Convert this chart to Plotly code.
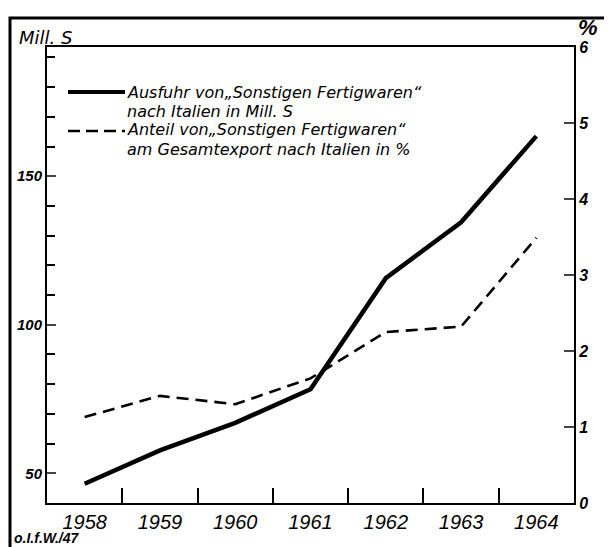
import plotly.graph_objects as go

years = [1958, 1959, 1960, 1961, 1962, 1963, 1964]
exports_mill_s = [46.5, 57.7, 67.0, 78.3, 115.7, 134.5, 163.5]
share_pct = [1.13, 1.41, 1.30, 1.64, 2.25, 2.32, 3.49]

left_ticks = [50, 100, 150]
right_ticks = [0, 1, 2, 3, 4, 5, 6]
half_year_ticks = [1958.5, 1959.5, 1960.5, 1961.5, 1962.5, 1963.5]

legend_lines = [
    "Ausfuhr von\u201eSonstigen Fertigwaren\u201c",
    "nach Italien in Mill. S",
    "Anteil von\u201eSonstigen Fertigwaren\u201c",
    "am Gesamtexport nach Italien in %",
]

# page has an 8px body margin; compensate so the plot lands where the reference has it
OFF = 8
W, H = 612 - OFF, 547 - OFF
PL, PR, PT, PB = 47, 574, 47, 503          # plot area in page pixels
L, T = PL - OFF, PT - OFF
R = W - (PR - OFF)
B = H - (PB - OFF)
PW, PH = PR - PL, PB - PT

def px(x):
    return (x - PL) / PW

def py(y):
    return (PB - y) / PH

FONT = "Liberation Sans"
LFONT = "DejaVu Sans"

fig = go.Figure()
fig.add_trace(go.Scatter(x=years, y=exports_mill_s, mode="lines",
                         line=dict(color="black", width=4.5), yaxis="y", showlegend=False))
fig.add_trace(go.Scatter(x=years, y=share_pct, mode="lines",
                         line=dict(color="black", width=2.6, dash="12px,7px"), yaxis="y2", showlegend=False))

fig.update_layout(
    width=W, height=H,
    margin=dict(l=L, r=R, t=T, b=B, autoexpand=False),
    paper_bgcolor="white", plot_bgcolor="white",
    font=dict(family=FONT, color="black"),
    xaxis=dict(range=[1957.5, 1964.5], tickvals=years, ticktext=[str(y) for y in years],
               ticks="", showgrid=False, zeroline=False, showline=True, linewidth=2,
               linecolor="black", mirror=True,
               tickfont=dict(family=FONT, size=20, style="italic"), ticklabelstandoff=0,
               minor=dict(tickvals=half_year_ticks, ticks="inside", ticklen=15,
                          tickwidth=1.5, tickcolor="black", showgrid=False)),
    yaxis=dict(range=[40, 193.5], tickvals=left_ticks, ticks="inside", ticklen=9, tickwidth=1.5,
               showgrid=False, zeroline=False, showline=True, linewidth=2, linecolor="black",
               tickfont=dict(family=FONT, size=15, style="italic", weight="bold"),
               minor=dict(dtick=10, tick0=0, ticks="inside", ticklen=8, tickwidth=1.5,
                          tickcolor="black", showgrid=False)),
    yaxis2=dict(range=[0, 6], overlaying="y", side="right", tickvals=right_ticks,
                ticks="inside", ticklen=10, tickwidth=1.5, showgrid=False, zeroline=False,
                showline=True, linewidth=2, linecolor="black",
                tickfont=dict(family=FONT, size=16, style="italic", weight="bold")),
)

# outer frame
fig.add_shape(type="rect", xref="paper", yref="paper",
              x0=px(10), x1=px(607), y0=py(570), y1=py(18),
              line=dict(color="black", width=3), layer="below")

# legend samples
fig.add_shape(type="line", xref="paper", yref="paper", x0=px(68), x1=px(125),
              y0=py(92), y1=py(92), line=dict(color="black", width=4))
fig.add_shape(type="line", xref="paper", yref="paper", x0=px(68), x1=px(125),
              y0=py(131), y1=py(131), line=dict(color="black", width=2.6, dash="12px,6px"))

for text, yc in zip(legend_lines, [92, 111, 130, 149]):
    fig.add_annotation(text=text, xref="paper", yref="paper", x=px(125), y=py(yc),
                       xanchor="left", yanchor="middle", showarrow=False,
                       font=dict(family=LFONT, size=16, style="italic"))

fig.add_annotation(text="Mill. S", xref="paper", yref="paper", x=px(17), y=py(37),
                   xanchor="left", yanchor="middle", showarrow=False,
                   font=dict(family=LFONT, size=18, style="italic"))
fig.add_annotation(text="%", xref="paper", yref="paper", x=px(588), y=py(28),
                   xanchor="center", yanchor="middle", showarrow=False,
                   font=dict(family=FONT, size=22, style="italic", weight="bold"))
fig.add_annotation(text="o.I.f.W./47", xref="paper", yref="paper", x=px(12), y=py(538),
                   xanchor="left", yanchor="middle", showarrow=False,
                   font=dict(family=FONT, size=14, style="italic", weight="bold"))

fig.write_html("out.html")
